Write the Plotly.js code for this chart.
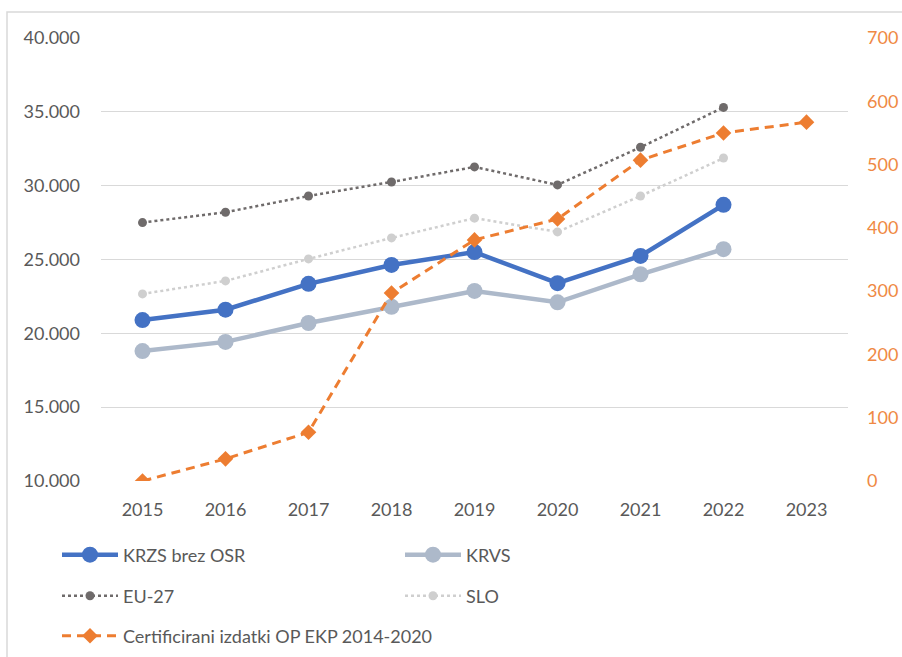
<!DOCTYPE html>
<html>
<head>
<meta charset="utf-8">
<script src="https://cdn.plot.ly/plotly-3.0.1.min.js"></script>
<style>html,body{margin:0;padding:0;background:#fff;}#chart{width:902px;height:657px;}</style>
</head>
<body>
<div id="chart"></div>
<script>
const years = ['2015','2016','2017','2018','2019','2020','2021','2022','2023'];
const krzs = [20900, 21600, 23350, 24630, 25500, 23400, 25240, 28700, null];
const krvs = [18800, 19420, 20700, 21800, 22870, 22100, 24000, 25700, null];
const eu27 = [27500, 28200, 29300, 30250, 31270, 30050, 32600, 35300, null];
const slo  = [22670, 23550, 25040, 26460, 27800, 26870, 29300, 31870, null];
const certificirani = [0, 35, 77, 297, 381, 414, 507, 550, 567];

const names = ['KRZS brez OSR', 'KRVS', 'EU-27', 'SLO', 'Certificirani izdatki OP EKP 2014-2020'];

const traces = [
  {x: years, y: krzs, name: names[0], type: 'scatter', mode: 'lines+markers', legend: 'legend',
   line: {color: '#4472C4', width: 4.5}, marker: {symbol: 'circle', size: 16, color: '#4472C4'}},
  {x: years, y: krvs, name: names[1], type: 'scatter', mode: 'lines+markers', legend: 'legend',
   line: {color: '#ADB9CA', width: 4.5}, marker: {symbol: 'circle', size: 16, color: '#ADB9CA'}},
  {x: years, y: eu27, name: names[2], type: 'scatter', mode: 'lines+markers', legend: 'legend2',
   line: {color: '#6F6B6B', width: 2.5, dash: 'dot'}, marker: {symbol: 'circle', size: 9, color: '#6F6B6B'}},
  {x: years, y: slo, name: names[3], type: 'scatter', mode: 'lines+markers', legend: 'legend2',
   line: {color: '#CFCFCF', width: 2.5, dash: 'dot'}, marker: {symbol: 'circle', size: 9, color: '#CFCFCF'}},
  {x: years, y: certificirani, name: names[4], type: 'scatter', mode: 'lines+markers', legend: 'legend3', yaxis: 'y2',
   line: {color: '#ED7D31', width: 3, dash: '9px,6px'}, marker: {symbol: 'diamond', size: 12, color: '#ED7D31'}}
];

const font = {family: 'Lato, "Open Sans", sans-serif', size: 18, color: '#595959'};
const legendBase = {orientation: 'h', entrywidth: 272, entrywidthmode: 'pixels', itemwidth: 56,
  x: (57 - 101) / 747, xanchor: 'left', yanchor: 'middle', font: font, bgcolor: 'rgba(0,0,0,0)',
  itemclick: false, itemdoubleclick: false};
const toPaperY = px => (481 - px) / 443;

const layout = {
  width: 902, height: 657,
  margin: {l: 101, r: 54, t: 38, b: 176, autoexpand: false},
  paper_bgcolor: '#ffffff', plot_bgcolor: '#ffffff',
  font: font,
  separators: ',.',
  showlegend: true,
  xaxis: {type: 'category', range: [-0.5, 8.5], showgrid: false, zeroline: false, showline: false,
    ticks: '', tickfont: font, ticklabelstandoff: 16, fixedrange: true},
  yaxis: {range: [10000, 40000], dtick: 5000, tickformat: ',', showgrid: true, gridcolor: '#D9D9D9', gridwidth: 1.3,
    zeroline: false, showline: false, ticks: '', tickfont: font, ticklabelstandoff: 20, fixedrange: true},
  yaxis2: {range: [0, 700], dtick: 100, overlaying: 'y', side: 'right', showgrid: false, zeroline: false,
    showline: false, ticks: '', tickfont: Object.assign({}, font, {color: '#EF8944'}), ticklabelstandoff: 18, fixedrange: true},
  legend: Object.assign({}, legendBase, {y: toPaperY(555)}),
  legend2: Object.assign({}, legendBase, {y: toPaperY(596)}),
  legend3: Object.assign({}, legendBase, {y: toPaperY(636), entrywidth: 600}),
  shapes: [
    {type: 'rect', xref: 'paper', yref: 'paper', layer: 'below',
     x0: (7 - 101) / 747, x1: (920 - 101) / 747, y0: toPaperY(680), y1: toPaperY(12),
     line: {color: '#D9D9D9', width: 1.5}, fillcolor: 'rgba(0,0,0,0)'}
  ]
};

Plotly.newPlot('chart', traces, layout, {staticPlot: true, displayModeBar: false});
</script>
</body>
</html>
